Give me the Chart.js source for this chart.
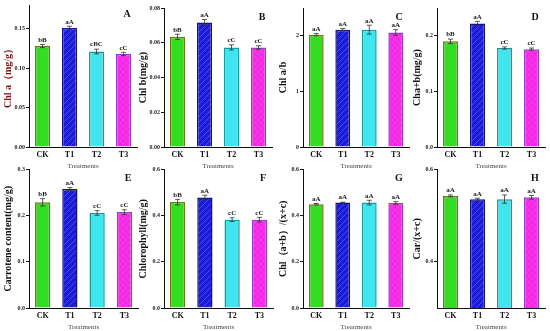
<!DOCTYPE html>
<html>
<head>
<meta charset="utf-8">
<script src="https://cdn.jsdelivr.net/npm/chart.js@4.4.1/dist/chart.umd.min.js"></script>
<style>
  html, body { margin: 0; padding: 0; background: #fff; }
  #wrap { position: relative; width: 550px; height: 331px; overflow: hidden; }
  #wrap canvas { position: absolute; }
</style>
</head>
<body>
<div id="wrap"></div>
<script>
// treatments
const categories = ['CK', 'T1', 'T2', 'T3'];

// A - Chl a
const chlA = [0.128, 0.151, 0.121, 0.118];
const chlAErr = [0.002, 0.002, 0.003, 0.002];
const chlALetters = ['bB', 'aA', 'cBC', 'cC'];
const chlATicks = [0, 0.05, 0.10, 0.15];

// B - Chl b
const chlB = [0.0634, 0.0716, 0.0573, 0.0573];
const chlBErr = [0.0015, 0.0018, 0.0015, 0.001];
const chlBLetters = ['bB', 'aA', 'cC', 'cC'];
const chlBTicks = [0, 0.02, 0.04, 0.06, 0.08];

// C - Chl a/b
const chlRatio = [2.02, 2.11, 2.11, 2.06];
const chlRatioErr = [0.02, 0.02, 0.08, 0.05];
const chlRatioLetters = ['aA', 'aA', 'aA', 'aA'];
const chlRatioTicks = [0, 1, 2];

// D - Cha+b
const chlAB = [0.190, 0.222, 0.178, 0.176];
const chlABErr = [0.004, 0.004, 0.002, 0.002];
const chlABLetters = ['bB', 'aA', 'cC', 'cC'];
const chlABTicks = [0, 0.1, 0.2];

// E - carrotene
const carotene = [0.229, 0.258, 0.206, 0.208];
const caroteneErr = [0.008, 0.003, 0.005, 0.005];
const caroteneLetters = ['bB', 'aA', 'cC', 'cC'];
const caroteneTicks = [0, 0.1, 0.2, 0.3];

// F - chlorophyll
const chlorophyll = [0.459, 0.479, 0.383, 0.383];
const chlorophyllErr = [0.012, 0.01, 0.008, 0.01];
const chlorophyllLetters = ['bB', 'aA', 'cC', 'cC'];
const chlorophyllTicks = [0, 0.2, 0.4, 0.6];

// G - Chl(a+b)/(x+c)
const chlShare = [0.450, 0.457, 0.457, 0.455];
const chlShareErr = [0.003, 0.002, 0.01, 0.006];
const chlShareLetters = ['aA', 'aA', 'aA', 'aA'];
const chlShareTicks = [0, 0.2, 0.4, 0.6];

// H - Car/(x+c)
const carShare = [0.543, 0.536, 0.536, 0.540];
const carShareErr = [0.002, 0.002, 0.009, 0.004];
const carShareLetters = ['aA', 'aA', 'aA', 'aA'];
const carShareTicks = [0.4, 0.6];

const SERIF = '"Liberation Serif", "Times New Roman", serif';

// штриховка для T1 / T3
function hatch(base, line, cross) {
    const c = document.createElement('canvas');
    c.width = c.height = 6;
    const g = c.getContext('2d');
    g.fillStyle = base;
    g.fillRect(0, 0, 6, 6);
    g.strokeStyle = line;
    g.lineWidth = 0.8;
    g.beginPath();
    g.moveTo(0, 6); g.lineTo(6, 0);
    g.moveTo(-3, 3); g.lineTo(3, -3);
    g.moveTo(3, 9); g.lineTo(9, 3);
    if (cross) {
        g.moveTo(0, 0); g.lineTo(6, 6);
        g.moveTo(-3, 3); g.lineTo(3, 9);
        g.moveTo(3, -3); g.lineTo(9, 3);
    }
    g.stroke();
    return g.createPattern(c, 'repeat');
}

const fills = [
    '#33dd22',
    hatch('#1c1cd8', 'rgba(110,110,255,0.7)', false),
    '#3fe6f0',
    hatch('#ff2ee8', 'rgba(200,40,210,0.6)', true)
];
const borders = ['#6f7a14', '#14147a', '#169a9e', '#8a40c8'];

const panels = [
    { tag: 'A', title: 'Chl a（mg/g）', titleColor: '#7a1414', data: chlA, err: chlAErr, letters: chlALetters, ticks: chlATicks, dec: 2, min: 0, max: 0.18, left: 0, top: 0, w: 140, h: 170, axisW: 29, padTop: 5 },
    { tag: 'B', title: 'Chl b(mg/g)', data: chlB, err: chlBErr, letters: chlBLetters, ticks: chlBTicks, dec: 2, min: 0, max: 0.08, left: 135, top: 0, w: 140, h: 170, axisW: 29, padTop: 8 },
    { tag: 'C', title: 'Chl a/b', data: chlRatio, err: chlRatioErr, letters: chlRatioLetters, ticks: chlRatioTicks, dec: 0, min: 0, max: 2.5, left: 275, top: 0, w: 137, h: 170, axisW: 28, padTop: 8 },
    { tag: 'D', title: 'Cha+b(mg/g)', data: chlAB, err: chlABErr, letters: chlABLetters, ticks: chlABTicks, dec: 1, min: 0, max: 0.25, left: 409, top: 0, w: 139, h: 170, axisW: 28, padTop: 8 },
    { tag: 'E', title: 'Carrotene content(mg/g)', data: carotene, err: caroteneErr, letters: caroteneLetters, ticks: caroteneTicks, dec: 1, min: 0, max: 0.3, left: 0, top: 165, w: 141, h: 166, axisW: 29, padTop: 3 },
    { tag: 'F', title: 'Chlorophyll(mg/g)', data: chlorophyll, err: chlorophyllErr, letters: chlorophyllLetters, ticks: chlorophyllTicks, dec: 1, min: 0, max: 0.6, left: 135, top: 165, w: 141, h: 166, axisW: 29, padTop: 3 },
    { tag: 'G', title: 'Chl（a+b）/(x+c)', data: chlShare, err: chlShareErr, letters: chlShareLetters, ticks: chlShareTicks, dec: 1, min: 0, max: 0.6, left: 275, top: 165, w: 137, h: 166, axisW: 28, padTop: 3 },
    { tag: 'H', title: 'Car/(x+c)', data: carShare, err: carShareErr, letters: carShareLetters, ticks: carShareTicks, dec: 1, min: 0.3, max: 0.6, left: 409, top: 165, w: 139, h: 166, axisW: 28, padTop: 3 }
];

// похибки, літери значущості, мітка панелі
const marks = {
    id: 'marks',
    afterDatasetsDraw(chart, args, o) {
        const { ctx, chartArea } = chart;
        const x = chart.scales.x, y = chart.scales.y;
        const vals = chart.data.datasets[0].data;
        ctx.save();
        vals.forEach((v, i) => {
            const px = x.getPixelForValue(i);
            const hi = y.getPixelForValue(v + o.err[i]);
            const lo = y.getPixelForValue(v - o.err[i]);
            ctx.strokeStyle = '#333';
            ctx.lineWidth = 0.8;
            ctx.beginPath();
            ctx.moveTo(px, lo); ctx.lineTo(px, hi);
            ctx.moveTo(px - 2.5, hi); ctx.lineTo(px + 2.5, hi);
            ctx.moveTo(px - 2.5, lo); ctx.lineTo(px + 2.5, lo);
            ctx.stroke();
            ctx.fillStyle = '#222';
            ctx.font = 'bold 7px ' + SERIF;
            ctx.textAlign = 'center';
            ctx.textBaseline = 'bottom';
            ctx.fillText(o.letters[i], px, hi - 1);
        });
        ctx.fillStyle = '#111';
        ctx.font = 'bold 10px ' + SERIF;
        ctx.textAlign = 'center';
        ctx.textBaseline = 'middle';
        ctx.fillText(o.tag, chartArea.right - 10, chartArea.top + 9);
        ctx.restore();
    }
};

const wrap = document.getElementById('wrap');

panels.forEach(p => {
    const cv = document.createElement('canvas');
    cv.width = p.w; cv.height = p.h;
    cv.style.left = p.left + 'px';
    cv.style.top = p.top + 'px';
    cv.style.width = p.w + 'px';
    cv.style.height = p.h + 'px';
    wrap.appendChild(cv);

    new Chart(cv.getContext('2d'), {
        type: 'bar',
        data: {
            labels: categories,
            datasets: [{
                data: p.data,
                backgroundColor: fills,
                borderColor: borders,
                borderWidth: 1.5,
                barPercentage: 0.56,
                categoryPercentage: 1
            }]
        },
        options: {
            responsive: false,
            animation: false,
            devicePixelRatio: 1,
            layout: { padding: { top: p.padTop, right: 3, left: 0, bottom: 0 } },
            plugins: {
                legend: { display: false },
                tooltip: { enabled: false },
                marks: { err: p.err, letters: p.letters, tag: p.tag }
            },
            scales: {
                x: {
                    grid: { display: false, drawTicks: false, tickLength: 0 },
                    border: { display: true, color: '#111', width: 1 },
                    ticks: { color: '#111', padding: 3, font: { family: SERIF, size: 8, weight: 'bold' } },
                    title: { display: true, text: 'Treatments', color: '#444', padding: 0, font: { family: SERIF, size: 7 } },
                    afterFit: s => { s.height = 23; }
                },
                y: {
                    min: p.min,
                    max: p.max,
                    grid: { display: true, drawOnChartArea: false, drawTicks: true, tickLength: 3, color: '#111' },
                    border: { display: true, color: '#111', width: 1 },
                    ticks: {
                        color: '#222',
                        padding: 1,
                        font: { family: SERIF, size: 6, weight: 'bold' },
                        callback: v => Number(v).toFixed(p.dec)
                    },
                    afterBuildTicks: s => { s.ticks = p.ticks.map(v => ({ value: v })); },
                    title: { display: true, text: p.title, color: p.titleColor || '#111', padding: { top: 2, bottom: 0 }, font: { family: SERIF, size: 10, weight: 'bold' } },
                    afterFit: s => { s.width = p.axisW; }
                }
            }
        },
        plugins: [marks]
    });
});
</script>
</body>
</html>
